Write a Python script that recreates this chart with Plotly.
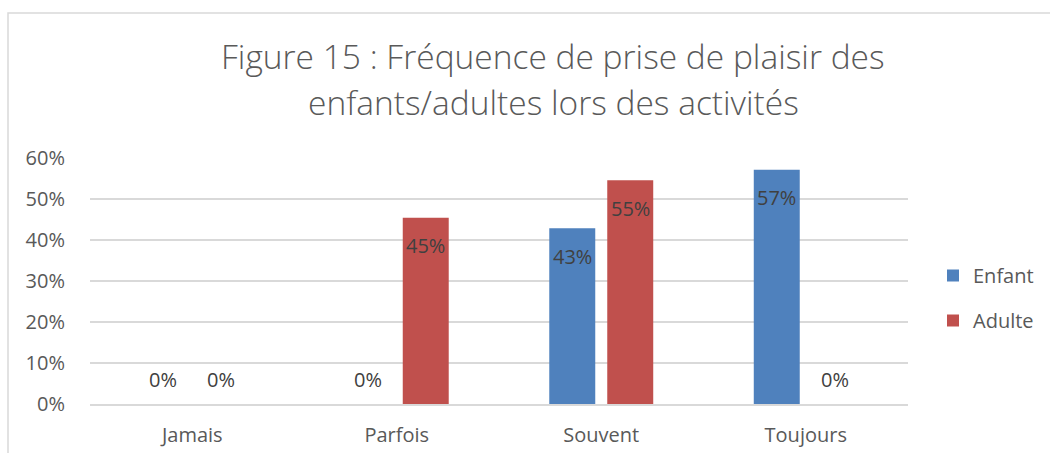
import plotly.graph_objects as go

categories = ["Jamais", "Parfois", "Souvent", "Toujours"]
enfant = [0, 0, 42.86, 57.14]
adulte = [0, 45.45, 54.55, 0]
series_names = ["Enfant", "Adulte"]
colors = ["#4f81bd", "#c0504d"]
title_lines = ["Figure 15 : Fréquence de prise de plaisir des",
               "enfants/adultes lors des activités"]
y_ticks = [0, 10, 20, 30, 40, 50, 60]

FONT = "Open Sans"
GRAY = "#595959"

W, H = 1050, 453
L, R, T, B = 90, 142, 158, 49
pw, ph = W - L - R, H - T - B

fig = go.Figure()
for i, (name, vals) in enumerate(zip(series_names, [enfant, adulte])):
    fig.add_trace(go.Bar(
        x=categories, y=vals, name=name, marker_color=colors[i],
        marker_line_width=0, legendgroup=name,
    ))

annotations = []
for i, vals in enumerate([enfant, adulte]):
    xs = -29 if i == 0 else 29
    for c, v in zip(categories, vals):
        annotations.append(dict(
            x=c, y=v, xref="x", yref="y", text=f"{round(v)}%",
            showarrow=False, xshift=xs, yshift=(-28 if v > 0 else 25),
            font=dict(family=FONT, size=20, color="#404040"),
        ))

for j, line in enumerate(title_lines):
    py = 56 + 46 * j
    annotations.append(dict(
        x=(553 - L) / pw, y=(H - B - py) / ph, xref="paper", yref="paper",
        text=line, showarrow=False, xanchor="center", yanchor="middle",
        font=dict(family=FONT, size=33.5, color=GRAY, weight=300),
    ))

fig.update_layout(
    width=W, height=H,
    margin=dict(l=L, r=R, t=T, b=B, autoexpand=False),
    paper_bgcolor="white", plot_bgcolor="white",
    barmode="group", bargap=0.433, bargroupgap=0.207,
    font=dict(family=FONT, color=GRAY, size=20),
    annotations=annotations,
    legend=dict(
        x=(933 - L) / pw, y=(H - B - 256) / ph, xanchor="left", yanchor="top",
        font=dict(family=FONT, size=20, color=GRAY),
        tracegroupgap=16, traceorder="grouped",
        itemwidth=30,
    ),
    shapes=[dict(
        type="rect", xref="paper", yref="paper",
        x0=(8 - L) / pw, x1=(1055 - L) / pw,
        y0=(H - B - 460) / ph, y1=(H - B - 13) / ph,
        line=dict(color="#d9d9d9", width=1.5), layer="below",
    )],
)
fig.update_yaxes(
    range=[0, 60], tickvals=y_ticks, ticktext=[f"{t}%" for t in y_ticks],
    showgrid=True, gridcolor="#d9d9d9", gridwidth=1.5, zeroline=False,
    showline=False, ticks="", ticklabelstandoff=24,
    tickfont=dict(family=FONT, size=20, color=GRAY),
)
fig.update_xaxes(
    showline=True, linecolor="#d9d9d9", linewidth=1.5, ticks="",
    ticklabelstandoff=12,
    tickfont=dict(family=FONT, size=20, color=GRAY),
)
fig.write_html("out.html", config={"displayModeBar": False},
               post_script="document.body.style.margin='0';")
